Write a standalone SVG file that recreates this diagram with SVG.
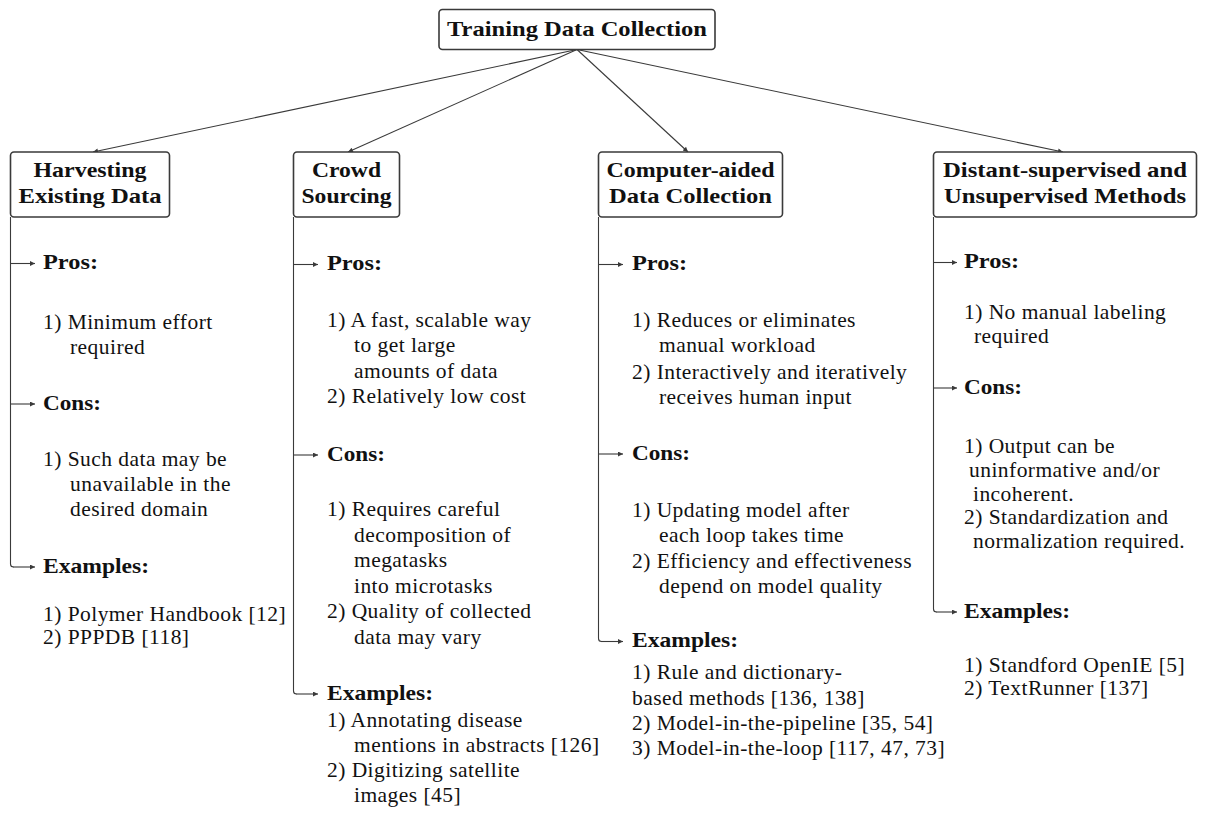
<svg xmlns="http://www.w3.org/2000/svg" width="1208" height="815" viewBox="0 0 1208 815">
  <style>
    .box { fill: #ffffff; stroke: #3a3a3a; stroke-width: 1.6; }
    .hd { font-family: "Liberation Serif", "DejaVu Serif", serif; font-weight: bold; font-size: 21px; fill: #111; text-anchor: middle; }
    .lbl { font-family: "Liberation Serif", "DejaVu Serif", serif; font-weight: bold; font-size: 21px; fill: #111; }
    .txt { font-family: "Liberation Serif", "DejaVu Serif", serif; font-size: 21.5px; letter-spacing: 0.45px; fill: #111; }
    .edge { fill: none; stroke: #3a3a3a; stroke-width: 1.1; marker-end: url(#tip); }
    .trunk { fill: none; stroke: #3a3a3a; stroke-width: 1.1; }
  </style>
  <defs>
    <marker id="tip" viewBox="0 0 10 10" refX="10" refY="5" markerUnits="userSpaceOnUse" markerWidth="7" markerHeight="5" orient="auto">
      <path d="M0,0 L10,5 L0,10 z" fill="#3a3a3a"/>
    </marker>
  </defs>
  <rect width="1208" height="815" fill="#ffffff"/>

  <!-- connectors -->
  <g id="connectors">
    <line class="edge" x1="577" y1="49.5" x2="93" y2="152"/>
    <line class="edge" x1="577" y1="49.5" x2="348" y2="152"/>
    <line class="edge" x1="577" y1="49.5" x2="688" y2="152"/>
    <line class="edge" x1="577" y1="49.5" x2="1063" y2="152"/>

    <!-- column 1 -->
    <path class="trunk" d="M10.5,217 V564 Q10.5,567 13.5,567"/>
    <line class="edge" x1="10.5" y1="263.5" x2="35" y2="263.5"/>
    <line class="edge" x1="10.5" y1="404" x2="35" y2="404"/>
    <line class="edge" x1="13" y1="567" x2="35" y2="567"/>

    <!-- column 2 -->
    <path class="trunk" d="M293.5,217 V691 Q293.5,694 296.5,694"/>
    <line class="edge" x1="293.5" y1="264.5" x2="318" y2="264.5"/>
    <line class="edge" x1="293.5" y1="455" x2="318" y2="455"/>
    <line class="edge" x1="296" y1="694" x2="318" y2="694"/>

    <!-- column 3 -->
    <path class="trunk" d="M598.5,217 V638.5 Q598.5,641.5 601.5,641.5"/>
    <line class="edge" x1="598.5" y1="264.5" x2="623" y2="264.5"/>
    <line class="edge" x1="598.5" y1="454" x2="623" y2="454"/>
    <line class="edge" x1="601" y1="641.5" x2="623" y2="641.5"/>

    <!-- column 4 -->
    <path class="trunk" d="M933.5,217 V609 Q933.5,612 936.5,612"/>
    <line class="edge" x1="933.5" y1="262.5" x2="957" y2="262.5"/>
    <line class="edge" x1="933.5" y1="388" x2="957" y2="388"/>
    <line class="edge" x1="936" y1="612" x2="957" y2="612"/>
  </g>

  <!-- root -->
  <g id="root">
    <rect class="box" x="439" y="9.5" width="276" height="40" rx="3.5"/>
    <text class="hd" x="577" y="35.5" textLength="260" lengthAdjust="spacingAndGlyphs">Training Data Collection</text>
  </g>

  <!-- category boxes -->
  <g id="harvesting">
    <rect class="box" x="10.5" y="152" width="159" height="65" rx="3.5"/>
    <text class="hd" x="90" y="177" textLength="113" lengthAdjust="spacingAndGlyphs">Harvesting</text>
    <text class="hd" x="90" y="203" textLength="143" lengthAdjust="spacingAndGlyphs">Existing Data</text>
  </g>
  <g id="crowd">
    <rect class="box" x="293.5" y="152" width="106" height="65" rx="3.5"/>
    <text class="hd" x="346.5" y="177" textLength="69" lengthAdjust="spacingAndGlyphs">Crowd</text>
    <text class="hd" x="346.5" y="203" textLength="90" lengthAdjust="spacingAndGlyphs">Sourcing</text>
  </g>
  <g id="computer-aided">
    <rect class="box" x="598.5" y="152" width="184" height="65" rx="3.5"/>
    <text class="hd" x="690.5" y="177" textLength="168" lengthAdjust="spacingAndGlyphs">Computer-aided</text>
    <text class="hd" x="690.5" y="203" textLength="163" lengthAdjust="spacingAndGlyphs">Data Collection</text>
  </g>
  <g id="distant">
    <rect class="box" x="933.5" y="152" width="263" height="65" rx="3.5"/>
    <text class="hd" x="1065" y="177" textLength="244" lengthAdjust="spacingAndGlyphs">Distant-supervised and</text>
    <text class="hd" x="1065" y="203" textLength="242" lengthAdjust="spacingAndGlyphs">Unsupervised Methods</text>
  </g>

  <!-- column 1 details -->
  <g id="harvesting-details">
    <text class="lbl" x="43" y="269" textLength="55" lengthAdjust="spacingAndGlyphs">Pros:</text>
    <text class="txt" x="43" y="329">1) Minimum effort</text>
    <text class="txt" x="70" y="353.5">required</text>
    <text class="lbl" x="43" y="410" textLength="58" lengthAdjust="spacingAndGlyphs">Cons:</text>
    <text class="txt" x="43" y="466">1) Such data may be</text>
    <text class="txt" x="70" y="491">unavailable in the</text>
    <text class="txt" x="70" y="516">desired domain</text>
    <text class="lbl" x="43" y="573" textLength="106" lengthAdjust="spacingAndGlyphs">Examples:</text>
    <text class="txt" x="43" y="621">1) Polymer Handbook [12]</text>
    <text class="txt" x="43" y="644">2) PPPDB [118]</text>
  </g>

  <!-- column 2 details -->
  <g id="crowd-details">
    <text class="lbl" x="327" y="270" textLength="55" lengthAdjust="spacingAndGlyphs">Pros:</text>
    <text class="txt" x="327" y="327">1) A fast, scalable way</text>
    <text class="txt" x="354" y="352">to get large</text>
    <text class="txt" x="354" y="377.5">amounts of data</text>
    <text class="txt" x="327" y="403">2) Relatively low cost</text>
    <text class="lbl" x="327" y="460.5" textLength="58" lengthAdjust="spacingAndGlyphs">Cons:</text>
    <text class="txt" x="327" y="516">1) Requires careful</text>
    <text class="txt" x="354" y="541.5">decomposition of</text>
    <text class="txt" x="354" y="567">megatasks</text>
    <text class="txt" x="354" y="592.5">into microtasks</text>
    <text class="txt" x="327" y="618">2) Quality of collected</text>
    <text class="txt" x="354" y="643.5">data may vary</text>
    <text class="lbl" x="327" y="699.5" textLength="106" lengthAdjust="spacingAndGlyphs">Examples:</text>
    <text class="txt" x="327" y="727">1) Annotating disease</text>
    <text class="txt" x="354" y="752">mentions in abstracts [126]</text>
    <text class="txt" x="327" y="777">2) Digitizing satellite</text>
    <text class="txt" x="354" y="802">images [45]</text>
  </g>

  <!-- column 3 details -->
  <g id="computer-aided-details">
    <text class="lbl" x="632" y="270" textLength="55" lengthAdjust="spacingAndGlyphs">Pros:</text>
    <text class="txt" x="632" y="326.5">1) Reduces or eliminates</text>
    <text class="txt" x="659" y="352">manual workload</text>
    <text class="txt" x="632" y="378.5">2) Interactively and iteratively</text>
    <text class="txt" x="659" y="404">receives human input</text>
    <text class="lbl" x="632" y="459.5" textLength="58" lengthAdjust="spacingAndGlyphs">Cons:</text>
    <text class="txt" x="632" y="516.5">1) Updating model after</text>
    <text class="txt" x="659" y="542">each loop takes time</text>
    <text class="txt" x="632" y="567.5">2) Efficiency and effectiveness</text>
    <text class="txt" x="659" y="593">depend on model quality</text>
    <text class="lbl" x="632" y="647" textLength="106" lengthAdjust="spacingAndGlyphs">Examples:</text>
    <text class="txt" x="632" y="679">1) Rule and dictionary-</text>
    <text class="txt" x="632" y="705">based methods [136, 138]</text>
    <text class="txt" x="632" y="730">2) Model-in-the-pipeline [35, 54]</text>
    <text class="txt" x="632" y="755">3) Model-in-the-loop [117, 47, 73]</text>
  </g>

  <!-- column 4 details -->
  <g id="distant-details">
    <text class="lbl" x="964" y="268" textLength="55" lengthAdjust="spacingAndGlyphs">Pros:</text>
    <text class="txt" x="964" y="319">1) No manual labeling</text>
    <text class="txt" x="974" y="343">required</text>
    <text class="lbl" x="964" y="393.5" textLength="58" lengthAdjust="spacingAndGlyphs">Cons:</text>
    <text class="txt" x="964" y="453">1) Output can be</text>
    <text class="txt" x="969" y="477">uninformative and/or</text>
    <text class="txt" x="973" y="500.5">incoherent.</text>
    <text class="txt" x="964" y="524">2) Standardization and</text>
    <text class="txt" x="973" y="548">normalization required.</text>
    <text class="lbl" x="964" y="617.5" textLength="106" lengthAdjust="spacingAndGlyphs">Examples:</text>
    <text class="txt" x="964" y="671.5">1) Standford OpenIE [5]</text>
    <text class="txt" x="964" y="695">2) TextRunner [137]</text>
  </g>
</svg>
